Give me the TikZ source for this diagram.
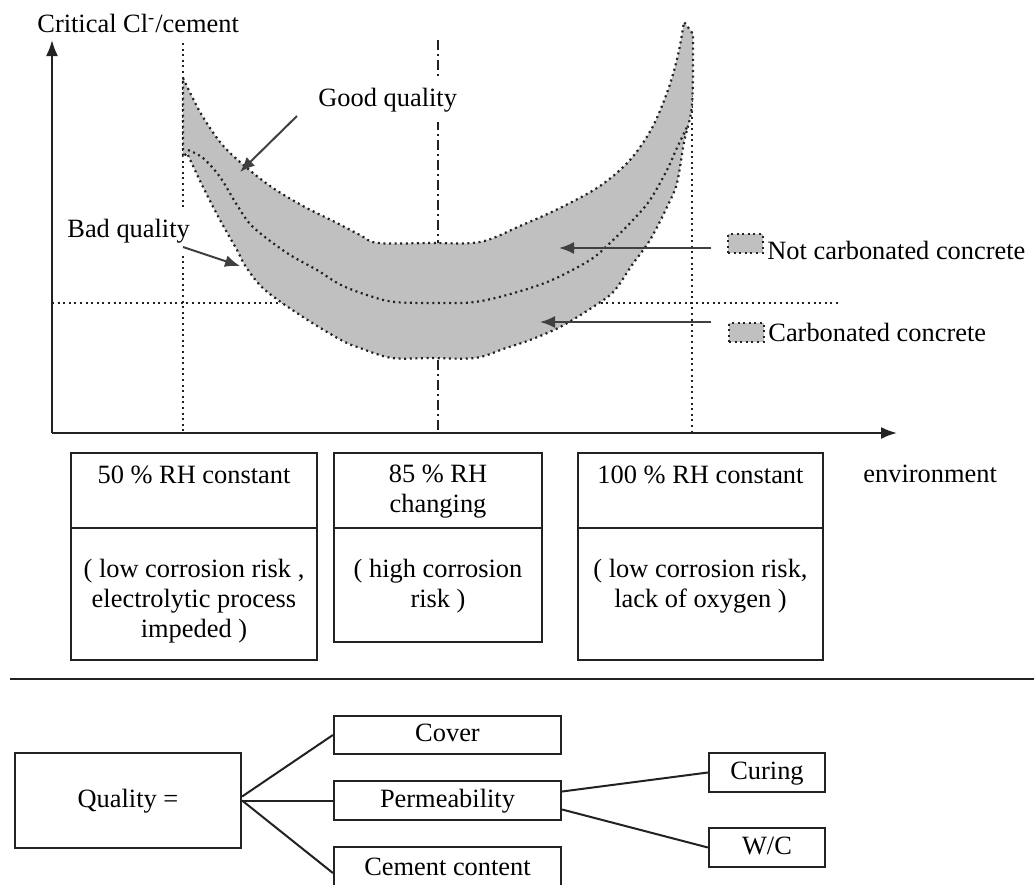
\documentclass[tikz,border=0pt]{standalone}
\usepackage{fontspec}
\setmainfont{Liberation Serif}
\usetikzlibrary{arrows.meta,calc}
\definecolor{bandgray}{HTML}{C0C0C0}
\definecolor{ink}{HTML}{222222}
\begin{document}
\begin{tikzpicture}[x=0.5pt,y=-0.5pt,
  txt/.style={font=\fontsize{13.2}{15}\selectfont, inner sep=0pt},
  mtxt/.style={txt, align=center, anchor=north},
  dotln/.style={line width=1.1pt, dash pattern=on 1pt off 1.8pt, draw=ink},
  dashdotln/.style={line width=0.9pt, dash pattern=on 5pt off 2pt on 1pt off 2pt, draw=ink},
  axis/.style={line width=1.1pt, draw=ink, -{Latex[length=8pt,width=6pt]}},
  pointer/.style={line width=1pt, draw=black!75, -{Latex[length=7.5pt,width=6pt]}},
  cell/.style={draw=ink, line width=1.1pt, inner sep=0pt},
  qbox/.style={draw=ink, line width=1.1pt, inner sep=0pt, font=\fontsize{13.2}{15}\selectfont, text height=0.66em, text depth=0pt, minimum height=19.5pt},
  legbox/.style={fill=bandgray, dotln, minimum width=17.5pt, minimum height=9.5pt, inner sep=0pt},
  link/.style={line width=1pt, draw=ink},
  masked/.style={txt, anchor=base west, fill=white, inner xsep=2pt, inner ysep=5pt}
]
\useasboundingbox[fill=white] (0,0) rectangle (1034,884);

% guide lines
\coordinate (gl1) at (183,43);  \coordinate (gl2) at (183,433);
\coordinate (gc1) at (438,40);  \coordinate (gc2) at (438,433);
\coordinate (gr1) at (692,33);  \coordinate (gr2) at (692,433);
\coordinate (gh1) at (52,303);  \coordinate (gh2) at (838,303);
\draw[dotln] (gl1) -- (gl2);
\draw[dashdotln] (gc1) -- (gc2);
\draw[dotln] (gr1) -- (gr2);
\draw[dotln] (gh1) -- (gh2);

% band
\path[fill=bandgray, dotln]
  plot[smooth, tension=0.55] coordinates {(183,78) (200,112) (220,142) (240,162) (270,186) (303,206) (335,222) (360,235) (378,243) (430,243) (480,242) (520,226) (560,208) (600,186) (630,160) (652,128) (668,90) (678,55) (684,22)}
  -- (693,34)
  -- plot[smooth, tension=0.55] coordinates {(693,36) (692,105) (684,142) (677,183) (667,207) (650,240) (632,265) (615,290) (599,303) (562,326) (530,340) (506,348) (475,358) (430,358) (392,358) (360,348) (341,340) (303,317) (265,290) (246,267) (237,250) (220,220) (203,187) (187,153)}
  -- (183,157) -- cycle;
\draw[dotln] plot[smooth, tension=0.55] coordinates {(188,150) (203,158) (220,177) (237,205) (253,227) (287,253) (317,270) (341,285) (370,296) (395,302) (437,303) (475,302) (514,293) (552,280) (590,260) (610,243) (633,220) (650,200) (667,170) (676,150) (688,125)};

% axes
\coordinate (O) at (52,433);
\coordinate (ytip) at (52,40);
\coordinate (xtip) at (897,433);
\draw[axis] (O) -- (ytip);
\draw[axis] (O) -- (xtip);
\node[txt, anchor=base west] (ylabel) at (37,32) {Critical Cl\textsuperscript{-}/cement};
\node[txt, anchor=base west] (env) at (863,482) {environment};

% quality labels
\node[masked] (good) at (314,106) {Good quality};
\coordinate (goods) at (297,116); \coordinate (goode) at (240,172);
\draw[pointer] (goods) -- (goode);
\node[masked] (bad) at (63,237) {Bad quality};
\coordinate (bads) at (183,247); \coordinate (bade) at (240,266);
\draw[pointer] (bads) -- (bade);

% legend
\node[legbox] (leg1) at (745.5,243.5) {};
\node[txt, anchor=base west] (leg1t) at (767,259) {Not carbonated concrete};
\node[legbox] (leg2) at (746.5,332.5) {};
\node[txt, anchor=base west] (leg2t) at (768,341) {Carbonated concrete};
\coordinate (ncs) at (711,248); \coordinate (nce) at (559,248);
\draw[pointer] (ncs) -- (nce);
\coordinate (cbs) at (711,322); \coordinate (cbe) at (540,322);
\draw[pointer] (cbs) -- (cbe);

% environment cells
\node[cell, minimum width=123pt, minimum height=37.5pt] (b1t) at (194,490.5) {};
\node[cell, minimum width=123pt, minimum height=66pt] (b1b) at (194,594) {};
\node[cell, minimum width=104pt, minimum height=37.5pt] (b2t) at (438,490.5) {};
\node[cell, minimum width=104pt, minimum height=57pt] (b2b) at (438,585) {};
\node[cell, minimum width=122.5pt, minimum height=37.5pt] (b3t) at (700.5,490.5) {};
\node[cell, minimum width=122.5pt, minimum height=66pt] (b3b) at (700.5,594) {};

\node[txt, anchor=base] (t1) at (194,483) {50 \% RH constant};
\node[mtxt] (t2) at (438,465) {85 \% RH\\changing};
\node[txt, anchor=base] (t3) at (700.5,483) {100 \% RH constant};
\node[mtxt] (u1) at (194,559) {( low corrosion risk ,\\electrolytic process\\impeded )};
\node[mtxt] (u2) at (438,559) {( high corrosion\\risk )};
\node[mtxt] (u3) at (700.5,559) {( low corrosion risk,\\lack of oxygen )};

% separator
\coordinate (sepL) at (10,679); \coordinate (sepR) at (1034,679);
\draw[line width=1.1pt, draw=ink] (sepL) -- (sepR);

% quality tree
\node[qbox, minimum width=113pt, minimum height=47.5pt] (quality) at (128,800.5) {Quality =};
\node[qbox, minimum width=113.5pt, minimum height=19pt] (cover) at (447.5,735) {Cover};
\node[qbox, minimum width=113.5pt] (perm) at (447.5,800.5) {Permeability};
\node[qbox, minimum width=113.5pt, minimum height=22pt] (cement) at (447.5,869) {Cement content};
\node[qbox, minimum width=58pt] (curing) at (767,772.5) {Curing};
\node[qbox, minimum width=58pt] (wc) at (767,847.5) {W/C};

\draw[link] ([yshift=2pt]quality.east) -- (cover.west);
\draw[link] (quality.east) -- (perm.west);
\draw[link] (quality.east) -- ([yshift=-2pt]cement.west);
\draw[link] ([yshift=4.5pt]perm.east) -- (curing.west);
\draw[link] ([yshift=-4.5pt]perm.east) -- (wc.west);
\end{tikzpicture}
\end{document}
